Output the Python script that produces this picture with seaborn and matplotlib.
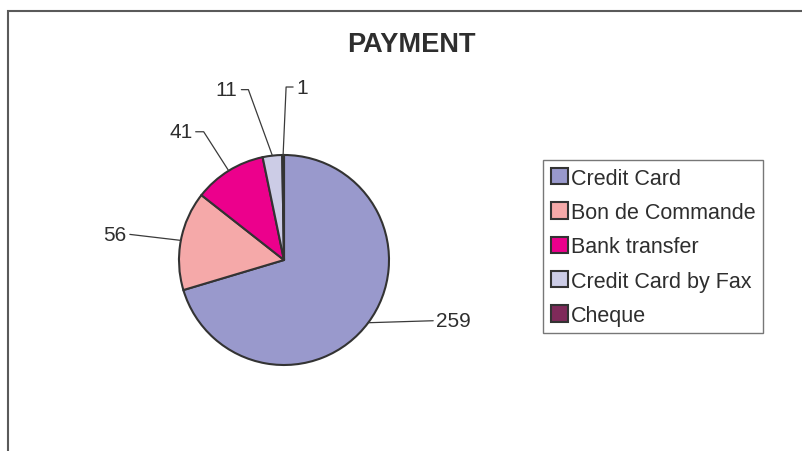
import numpy as np
import seaborn as sns
import matplotlib.pyplot as plt
from matplotlib.patches import Rectangle

# data
categories = ["Credit Card", "Bon de Commande", "Bank transfer", "Credit Card by Fax", "Cheque"]
counts = [259, 56, 41, 11, 1]
colors = ["#9999CC", "#F5A9A9", "#EC008C", "#CCCCE6", "#7F2A5A"]

# label placement, in pixels relative to the wedge edge point:
# (elbow offset or None, line end offset, text offset, horizontal alignment)
label_layout = [
    (None, (65, 2), (68, 2), "left"),
    (None, (-51, 6), (-54, 6), "right"),
    ((-25, 39), (-33, 39), (-36, 39), "right"),
    ((-24, 66), (-31, 66), (-35, 66), "right"),
    ((3, 68), (10, 68), (13, 68), "left"),
]

sns.set_theme(style="white")
plt.rcParams['font.family'] = ['Liberation Sans', 'DejaVu Sans']
text_color = "#2e2e2e"

W, H = 802, 452
fig = plt.figure(figsize=(W / 100, H / 100), dpi=100)

# chart area border (continues past the right and bottom edges)
fig.patches.append(Rectangle((8 / W, -0.1), 1.2, 1 - 11.5 / H + 0.1,
                             transform=fig.transFigure, fill=False,
                             edgecolor="#5a5a5a", linewidth=1.5))

# pie axes: center (284, 261) px, radius 105 px
cx, cy, r = 284, 261, 105
ax = fig.add_axes([(cx - r) / W, (H - cy - r) / H, 2 * r / W, 2 * r / H])
wedges, _ = ax.pie(counts, colors=colors, startangle=90, counterclock=False,
                   radius=1.0,
                   wedgeprops=dict(edgecolor="#333333", linewidth=1.5))
ax.set_xlim(-1, 1)
ax.set_ylim(-1, 1)
ax.set_aspect("equal")
ax.axis("off")

px = 1.0 / r  # one pixel in data units
for w, val, (elbow, lend, toff, ha) in zip(wedges, counts, label_layout):
    mid = np.deg2rad((w.theta1 + w.theta2) / 2)
    ex, ey = np.cos(mid), np.sin(mid)
    xs, ys = [ex], [ey]
    if elbow is not None:
        xs.append(ex + elbow[0] * px)
        ys.append(ey + elbow[1] * px)
    xs.append(ex + lend[0] * px)
    ys.append(ey + lend[1] * px)
    ax.plot(xs, ys, color="#3a3a3a", linewidth=0.9, clip_on=False)
    ax.text(ex + toff[0] * px, ey + toff[1] * px, str(val), ha=ha, va="center",
            fontsize=15, color=text_color, clip_on=False)

fig.text(411 / W, 1 - 45 / H, "PAYMENT", ha="center", va="center",
         fontsize=19.5, fontweight="bold", color=text_color)

leg = fig.legend(wedges, categories, loc="upper left",
                 bbox_to_anchor=(543 / W, 1 - 161 / H), borderaxespad=0,
                 fontsize=15.5, frameon=True, fancybox=False, shadow=False,
                 handlelength=0.8, handleheight=0.8, handletextpad=0.15,
                 labelspacing=0.62, borderpad=0.35)
leg.get_frame().set_edgecolor("#555555")
leg.get_frame().set_linewidth(1.0)
for t in leg.get_texts():
    t.set_color(text_color)

fig.savefig("out.png", dpi=100)
